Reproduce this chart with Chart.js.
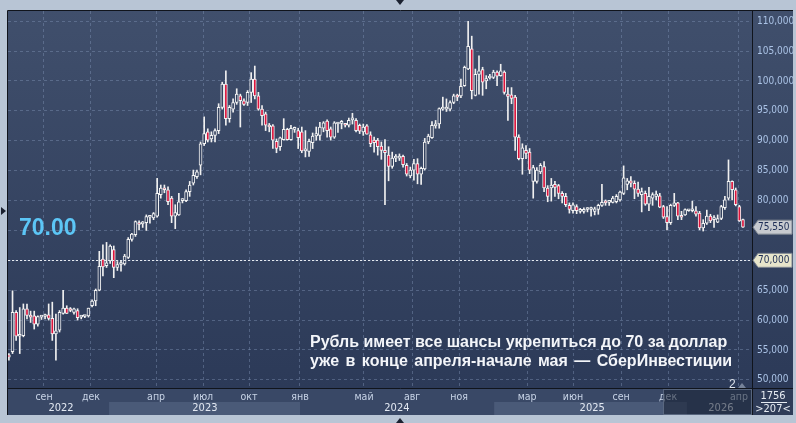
<!DOCTYPE html>
<html>
<head>
<meta charset="utf-8">
<script src="https://cdn.jsdelivr.net/npm/chart.js@4.4.0/dist/chart.umd.min.js"></script>
<style>
  html, body { margin: 0; padding: 0; background: #b8c5d5; }
  canvas { display: block; }
</style>
</head>
<body>
<canvas id="chart" width="796" height="423"></canvas>
<script>
// weekly USD/RUB candles
const opens = [54.2,54.7,61.3,57.3,57.4,61.9,60.7,60.7,59.3,60.5,60.6,60.9,60.3,57.7,58.3,61.1,62.0,61.8,61.3,61.6,
  60.5,60.6,60.7,62.4,63.2,65.0,70.2,69.1,69.9,71.8,68.8,69.3,69.4,70.5,73.5,74.3,76.2,76.1,76.3,77.2,
  77.1,77.4,81.0,82.0,81.8,80.4,77.4,77.6,80.0,80.0,81.5,82.9,84.0,85.9,89.5,91.5,90.3,90.9,91.7,95.6,
  99.5,93.7,95.3,96.4,97.5,96.7,96.4,98.1,100.3,97.5,95.3,94.5,92.5,92.5,89.9,89.0,90.2,91.9,90.2,91.9,
  91.7,91.5,88.3,88.2,89.7,90.8,90.9,92.1,93.3,92.0,90.6,92.8,92.9,92.7,92.6,93.5,93.4,92.6,91.5,92.5,
  91.0,90.1,90.1,89.1,88.4,87.6,85.7,87.1,87.1,87.4,85.9,84.1,85.1,86.2,84.4,85.3,89.8,90.5,92.5,92.8,
  95.3,95.3,95.3,96.4,97.5,97.5,99.2,102.0,105.4,97.6,101.1,101.9,100.0,100.5,100.6,101.5,100.9,101.5,97.8,97.7,
  97.3,90.6,87.0,88.4,88.1,83.2,83.2,84.8,85.7,82.1,82.1,82.7,82.5,81.2,80.7,79.2,78.3,79.0,78.2,78.2,
  78.5,78.5,78.2,78.5,79.2,79.7,79.7,79.7,79.8,80.1,81.2,82.7,83.3,82.9,81.9,81.0,81.2,79.4,80.4,80.7,
  80.8,79.0,77.3,76.3,79.2,79.6,77.3,77.6,78.3,78.3,78.3,77.9,75.4,76.2,77.4,76.8,76.4,77.0,78.8,80.4,
  83.2,81.8,79.0,76.8];
const highs = [54.4,64.9,61.6,62.1,62.7,62.7,61.5,61.5,60.7,60.7,61.0,62.7,63.0,61.0,61.6,65.0,62.4,62.1,62.0,61.9,
  60.7,60.8,62.0,63.4,65.2,71.5,72.6,73.0,72.6,72.4,69.8,70.0,71.0,73.8,74.5,76.6,76.6,76.5,77.6,77.5,
  78.0,83.7,82.6,82.6,82.3,80.7,79.3,81.2,80.3,81.8,83.2,85.1,85.1,89.8,94.0,92.0,91.5,92.0,96.2,99.8,
  101.7,95.9,97.0,98.7,97.8,97.0,98.4,101.4,102.5,98.1,95.9,94.8,92.9,92.7,90.3,90.6,93.7,92.1,92.6,92.3,
  92.1,92.3,91.7,90.3,91.3,92.3,93.1,93.2,93.5,92.3,93.2,93.1,93.4,92.8,93.8,94.6,93.7,92.8,92.8,92.7,
  91.5,90.6,90.4,89.8,90.2,89.0,88.1,87.7,87.8,87.6,86.2,85.6,86.9,87.0,85.6,90.4,91.1,93.2,93.4,95.5,
  97.3,97.0,96.7,97.8,97.8,100.3,102.5,110.0,107.5,102.0,104.2,102.3,100.9,101.1,101.8,101.7,102.8,101.7,98.9,98.9,
  97.6,91.0,89.5,89.2,88.7,85.9,85.5,86.2,86.5,82.5,83.7,83.2,82.7,81.5,81.2,79.6,79.6,79.3,78.7,78.8,
  78.8,78.9,78.9,79.4,82.7,80.1,80.0,80.7,81.0,81.6,85.8,83.7,84.0,83.3,83.1,82.1,81.6,82.2,81.3,81.6,
  81.2,79.2,79.0,79.4,81.2,79.7,78.2,78.6,78.5,79.9,79.0,78.2,76.8,78.4,77.7,77.5,77.6,79.2,80.7,86.8,
  83.3,82.1,79.2,76.9];
const lows = [53.3,54.4,56.6,54.4,57.2,60.2,59.6,58.5,59.0,60.1,60.2,60.0,56.6,53.3,58.0,61.0,61.1,61.4,61.0,60.0,
  60.2,60.4,60.5,62.2,62.4,64.9,67.4,68.8,69.5,67.1,68.3,68.2,69.2,70.3,73.2,74.0,75.1,75.5,75.0,76.2,
  76.8,77.2,80.4,81.3,79.3,76.3,75.3,77.5,79.6,79.8,80.7,82.6,83.7,84.3,89.2,89.8,89.8,89.8,91.2,95.3,
  92.6,93.1,94.8,96.1,92.3,95.9,95.9,96.4,97.0,95.1,92.6,91.7,91.5,88.7,88.0,88.4,90.1,90.1,90.1,91.4,
  88.7,88.0,87.3,87.4,88.7,90.1,90.1,91.5,90.6,90.1,90.4,91.4,92.0,92.3,92.3,92.8,91.5,91.2,90.9,91.1,
  89.0,88.1,87.6,86.9,79.3,83.3,85.4,86.5,86.7,85.6,84.1,83.8,83.4,82.8,82.7,85.1,89.5,90.4,92.1,92.1,
  95.1,94.9,95.0,96.2,96.7,97.2,99.1,101.9,97.0,97.5,97.8,97.6,98.7,100.3,100.4,99.2,100.8,97.8,93.4,96.2,
  88.4,86.8,84.4,87.0,84.5,80.4,82.9,84.5,81.5,79.8,79.9,80.7,80.3,79.6,79.0,77.9,77.9,77.8,77.9,77.9,
  78.1,77.4,77.6,77.7,79.0,79.2,79.2,79.6,79.6,79.9,81.0,81.8,82.3,80.3,80.7,78.1,79.2,78.3,79.2,80.1,
  78.8,77.0,75.1,76.0,79.0,76.8,76.8,77.5,78.2,78.1,77.4,75.1,74.9,76.0,76.3,75.5,76.3,76.8,78.5,80.1,
  80.1,79.1,76.5,75.5];
const closes = [53.8,61.3,57.3,57.5,61.9,60.8,60.5,59.3,60.6,60.6,60.8,60.3,57.7,58.2,61.3,62.0,61.1,61.6,61.9,60.4,
  60.6,60.7,62.0,63.2,65.0,69.0,68.9,69.6,72.4,68.8,69.3,69.6,70.7,73.5,74.4,76.5,76.0,76.3,77.3,77.4,
  77.8,81.2,82.1,81.8,79.8,77.4,78.0,79.8,80.1,81.5,82.6,84.2,84.8,89.5,91.2,90.1,90.9,91.7,95.6,99.5,
  93.7,95.6,96.4,97.8,96.7,96.1,98.1,100.3,97.5,95.3,94.2,92.6,92.3,90.1,88.7,90.5,91.9,90.2,92.1,92.0,
  90.5,88.3,88.4,89.9,90.8,91.2,92.3,93.0,91.7,90.6,93.0,92.9,93.2,92.6,93.4,93.5,91.7,91.6,92.3,91.1,
  89.5,89.7,89.0,88.4,88.0,85.7,87.1,87.3,87.3,86.0,84.4,85.1,86.2,84.4,85.4,89.8,90.8,92.6,92.8,95.4,
  95.5,95.4,96.4,97.5,97.3,99.1,102.3,105.8,98.4,101.1,101.7,99.8,100.4,100.8,101.5,100.8,101.7,98.1,97.4,97.1,
  90.6,87.0,88.8,87.9,85.1,85.5,85.1,85.9,82.1,80.7,82.6,82.2,81.2,80.7,79.3,78.5,79.3,78.3,78.4,78.5,
  78.6,78.6,78.6,79.2,79.7,79.6,79.8,80.4,80.7,81.4,83.8,83.3,82.9,81.9,81.2,81.5,79.4,80.7,81.0,81.1,
  78.9,77.2,76.3,79.2,79.6,77.4,77.2,78.5,78.4,78.6,77.7,75.4,76.2,77.4,76.6,76.8,77.0,79.0,80.1,83.2,
  81.8,79.3,76.6,75.55];

// axis labels (x positions in candle-index units)
const monthTicks = [9.7, 22.7, 40.7, 53.7, 66.4, 80.5, 98.2, 111.5, 124.5, 143.3, 156.0, 169.3, 182.3, 201.9];
const monthNames = ['сен', 'дек', 'апр', 'июл', 'окт', 'янв', 'май', 'авг', 'ноя', 'мар', 'июн', 'сен', 'дек', 'апр'];
const yearNames = ['2022', '2023', '2024', '2025', '2026'];
const yearCenters = [14.4, 54.2, 107.3, 161.3, 196.9];
const yearStarts = [-0.25, 27.7, 80.5, 134.2, 187.5];
const priceTicks = [50, 55, 60, 65, 70, 75, 80, 85, 90, 95, 100, 105, 110];

const targetLevel = 70;
const targetText = '70.00';
const noteLines = [
  'Рубль имеет все шансы укрепиться до 70 за доллар',
  'уже в конце апреля-начале мая — СберИнвестиции'
];
const barCountText = '1756';
const visibleText = '>207<';

const NARROW = '"Liberation Sans Narrow", "Arial Narrow", "DejaVu Sans Condensed", sans-serif';
const SANS = '"Liberation Sans", Arial, sans-serif';
const fmtPrice = (v) => v.toFixed(3).replace('.', ',');

const wickData = lows.map((l, i) => ({ x: i, y: [l, highs[i]] }));
const bodyData = opens.map((o, i) => ({ x: i, y: [o, closes[i]] }));
const bodyColors = opens.map((o, i) => closes[i] < o ? '#dc143c' : '#34425f');

const frame = {
  id: 'frame',
  beforeDraw(chart) {
    const { ctx, chartArea: a, scales: { x } } = chart;
    ctx.save();
    ctx.fillStyle = '#b8c5d5';
    ctx.fillRect(0, 0, 796, 423);
    const g = ctx.createLinearGradient(0, a.top, 0, a.bottom);
    g.addColorStop(0, '#404f6c');
    g.addColorStop(1, '#2c3a58');
    ctx.fillStyle = g;
    ctx.fillRect(a.left, a.top, 793 - a.left, a.bottom - a.top);
    // time axis strip
    ctx.fillStyle = '#394866';
    ctx.fillRect(a.left, a.bottom, 793 - a.left, 415 - a.bottom);
    ctx.fillStyle = '#2f3c58';
    ctx.fillRect(a.right, a.bottom, 793 - a.right, 415 - a.bottom);
    // alternating year bands
    ctx.fillStyle = '#4a5a78';
    yearStarts.forEach((s, i) => {
      if (i % 2 === 1) {
        const x0 = x.getPixelForValue(s);
        const x1 = i + 1 < yearStarts.length ? x.getPixelForValue(yearStarts[i + 1]) : a.right;
        ctx.fillRect(x0, 402, x1 - x0, 13);
      }
    });
    ctx.restore();
  },
  afterDraw(chart) {
    const { ctx, chartArea: a, scales: { x, y } } = chart;
    ctx.save();

    // target level line
    const yt = Math.round(y.getPixelForValue(targetLevel)) + 0.5;
    ctx.strokeStyle = '#e6eaf0';
    ctx.lineWidth = 1;
    ctx.setLineDash([2, 2]);
    ctx.beginPath();
    ctx.moveTo(a.left, yt);
    ctx.lineTo(a.right, yt);
    ctx.stroke();
    ctx.setLineDash([]);

    // year labels
    ctx.font = '11px ' + NARROW;
    ctx.textAlign = 'center';
    ctx.textBaseline = 'middle';
    ctx.fillStyle = '#e2e8f2';
    yearNames.forEach((n, i) => ctx.fillText(n, x.getPixelForValue(yearCenters[i]), 408.5));

    // dimmed scroll area at the right of the time axis
    ctx.fillStyle = 'rgba(24,32,50,0.55)';
    ctx.fillRect(663, a.bottom + 1, a.right - 663, 415 - a.bottom - 1);
    ctx.strokeStyle = 'rgba(120,135,160,0.6)';
    ctx.strokeRect(663.5, a.bottom + 1.5, a.right - 664, 415 - a.bottom - 2);

    // frame lines
    ctx.strokeStyle = '#10141c';
    ctx.beginPath();
    ctx.moveTo(a.left - 0.5, a.top - 0.5); ctx.lineTo(793, a.top - 0.5);
    ctx.moveTo(a.left - 0.5, a.top - 0.5); ctx.lineTo(a.left - 0.5, 415);
    ctx.moveTo(a.left, a.bottom + 0.5); ctx.lineTo(793, a.bottom + 0.5);
    ctx.moveTo(a.right + 0.5, a.top); ctx.lineTo(a.right + 0.5, 415);
    ctx.stroke();

    // price tags on the right axis
    const tag = (val, bg) => {
      const py = y.getPixelForValue(val);
      ctx.fillStyle = bg;
      ctx.strokeStyle = '#7d8590';
      ctx.beginPath();
      ctx.moveTo(a.right + 1, py);
      ctx.lineTo(a.right + 6, py - 7);
      ctx.lineTo(792, py - 7);
      ctx.lineTo(792, py + 7);
      ctx.lineTo(a.right + 6, py + 7);
      ctx.closePath();
      ctx.fill();
      ctx.stroke();
      ctx.fillStyle = '#1d2d55';
      ctx.font = '10px ' + NARROW;
      ctx.textAlign = 'left';
      ctx.textBaseline = 'middle';
      ctx.fillText(fmtPrice(val), a.right + 6, py + 0.5);
    };
    tag(closes[closes.length - 1], '#c7cacf');
    tag(targetLevel, '#e7e5cb');

    // bar counter box
    ctx.fillStyle = '#e6ebf2';
    ctx.font = '11px ' + NARROW;
    ctx.textAlign = 'center';
    ctx.fillText(barCountText, 773, 396);
    ctx.fillText(visibleText, 773, 409);
    ctx.fillRect(761, 402, 26, 1);

    // level readout and note
    ctx.textAlign = 'left';
    ctx.fillStyle = '#5cc6f6';
    ctx.font = 'bold 23px ' + SANS;
    ctx.fillText(targetText, 19, 229);
    ctx.fillStyle = '#f3f5f9';
    ctx.font = 'bold 16px ' + SANS;
    ctx.textBaseline = 'alphabetic';
    ctx.fillText(noteLines[0], 310, 347);
    ctx.wordSpacing = '2px';
    ctx.fillText(noteLines[1], 310, 366);
    ctx.wordSpacing = '0px';

    ctx.font = '12px ' + SANS;
    ctx.fillStyle = '#dde3ec';
    ctx.fillText('2', 729, 388);
    ctx.fillStyle = '#76839a';
    ctx.beginPath();
    ctx.moveTo(738, 388); ctx.lineTo(742, 383); ctx.lineTo(746, 388); ctx.closePath(); ctx.fill();

    // little window markers
    ctx.fillStyle = '#1b2130';
    ctx.beginPath();
    ctx.moveTo(1, 207); ctx.lineTo(6, 211); ctx.lineTo(1, 215); ctx.closePath(); ctx.fill();
    ctx.beginPath();
    ctx.moveTo(396, 0); ctx.lineTo(404, 0); ctx.lineTo(400, 5); ctx.closePath(); ctx.fill();
    ctx.beginPath();
    ctx.moveTo(396, 423); ctx.lineTo(404, 423); ctx.lineTo(400, 418); ctx.closePath(); ctx.fill();
    ctx.restore();
  }
};

new Chart(document.getElementById('chart'), {
  type: 'bar',
  data: {
    datasets: [
      {
        label: 'body',
        data: bodyData,
        order: 0,
        barThickness: 3,
        minBarLength: 2,
        backgroundColor: bodyColors,
        borderColor: '#f4f4f4',
        borderWidth: 1,
        borderSkipped: false,
        grouped: false,
      },
      {
        label: 'wick',
        data: wickData,
        order: 1,
        barThickness: 1,
        backgroundColor: '#f0f0f0',
        borderWidth: 0,
        grouped: false,
      },
    ],
  },
  options: {
    responsive: false,
    devicePixelRatio: 1,
    animation: false,
    events: [],
    layout: { autoPadding: false, padding: { left: 8, top: 8, right: 3, bottom: 8 } },
    plugins: { legend: { display: false }, tooltip: { enabled: false } },
    scales: {
      x: {
        type: 'linear',
        position: 'bottom',
        min: -0.25,
        max: 205.5,
        offset: false,
        afterBuildTicks: (axis) => { axis.ticks = monthTicks.map(v => ({ value: v })); },
        afterFit: (axis) => { axis.height = 27; },
        grid: { color: 'rgba(135,155,190,0.4)', drawTicks: false, offset: false },
        border: { display: false, dash: [3, 3] },
        ticks: {
          padding: 3,
          maxRotation: 0,
          autoSkip: false,
          color: '#c7d3e6',
          font: { family: NARROW, size: 10.5 },
          callback: (v, i) => monthNames[i],
        },
      },
      y: {
        type: 'linear',
        position: 'right',
        min: 48.64,
        max: 111.71,
        afterBuildTicks: (axis) => { axis.ticks = priceTicks.map(v => ({ value: v })); },
        afterFit: (axis) => { axis.width = 41; },
        grid: { color: 'rgba(135,155,190,0.4)', drawTicks: false },
        border: { display: false, dash: [3, 3] },
        ticks: {
          padding: 5,
          color: '#abc3e6',
          font: { family: NARROW, size: 10 },
          callback: (v) => fmtPrice(v),
        },
      },
    },
  },
  plugins: [frame],
});
</script>
</body>
</html>
